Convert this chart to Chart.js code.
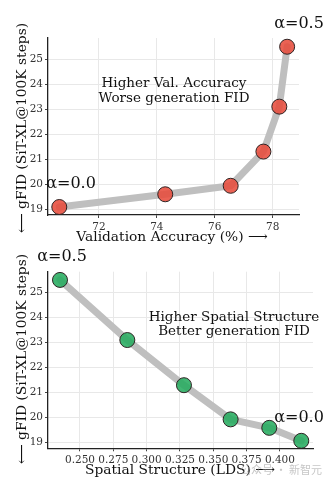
<!DOCTYPE html>
<html>
<head>
<meta charset="utf-8">
<script src="https://cdn.jsdelivr.net/npm/chart.js@4.4.0/dist/chart.umd.min.js"></script>
<style>
  html, body { margin: 0; padding: 0; background: #fff; }
  .wrap { position: relative; width: 333px; height: 485px; overflow: hidden; }
  .box { position: absolute; left: 0; width: 333px; }
  #top { top: 0; height: 245px; }
  #bot { top: 245px; height: 240px; }
</style>
</head>
<body>
<div class="wrap">
  <div class="box" id="top"><canvas id="c1" width="333" height="245"></canvas></div>
  <div class="box" id="bot"><canvas id="c2" width="333" height="240"></canvas></div>
</div>
<script>
// Validation accuracy vs gFID (alpha from 0.0 to 0.5)
const valAccuracy = [70.63, 74.29, 76.55, 77.68, 78.23, 78.50];
const gfidVal     = [19.08, 19.59, 19.93, 21.30, 23.10, 25.50];

// Spatial structure (LDS) vs gFID (alpha from 0.5 to 0.0)
const spatialLDS  = [0.235, 0.2855, 0.328, 0.363, 0.392, 0.416];
const gfidLDS     = [25.50, 23.09, 21.28, 19.91, 19.57, 19.05];

const yTicks = [19, 20, 21, 22, 23, 24, 25];
const accTicks = [72, 74, 76, 78];
const ldsTicks = [0.250, 0.275, 0.300, 0.325, 0.350, 0.375, 0.400];

const SERIF = '"DejaVu Serif", serif';

function textPlugin(items) {
  return {
    id: 'labels',
    afterDraw(chart) {
      const ctx = chart.ctx;
      items.forEach(t => {
        ctx.save();
        ctx.font = t.font;
        ctx.fillStyle = t.color || '#111';
        ctx.textAlign = t.align || 'center';
        ctx.textBaseline = 'middle';
        ctx.translate(t.x, t.y);
        if (t.rot) ctx.rotate(t.rot);
        ctx.fillText(t.text, 0, 0);
        ctx.restore();
      });
    }
  };
}

function makeChart(id, xs, ys, xTicks, xMin, xMax, yMin, yMax, pad, axisH, fill, items) {
  const data = xs.map((x, i) => ({ x: x, y: ys[i] }));
  return new Chart(document.getElementById(id), {
    type: 'line',
    data: {
      datasets: [{
        data: data,
        borderColor: '#bfbfbf',
        borderWidth: 7,
        borderJoinStyle: 'round',
        borderCapStyle: 'round',
        pointRadius: 7.5,
        pointHoverRadius: 7.5,
        pointBackgroundColor: fill,
        pointBorderColor: '#2e2424',
        pointBorderWidth: 1,
        tension: 0
      }]
    },
    options: {
      responsive: false,
      animation: false,
      events: [],
      layout: { padding: pad },
      plugins: { legend: { display: false }, tooltip: { enabled: false } },
      scales: {
        x: {
          type: 'linear',
          min: xMin, max: xMax,
          afterBuildTicks: s => { s.ticks = xTicks.map(v => ({ value: v })); },
          afterFit: s => { s.height = axisH; },
          ticks: {
            font: { family: SERIF, size: 10.5 }, color: '#333', padding: 3,
            maxRotation: 0,
            callback: v => (xTicks[0] < 1 ? v.toFixed(3) : String(v))
          },
          grid: { color: '#e8e8e8', lineWidth: 1, tickLength: 3, tickColor: '#444' },
          border: { color: '#222', width: 1.3 }
        },
        y: {
          type: 'linear',
          min: yMin, max: yMax,
          afterBuildTicks: s => { s.ticks = yTicks.map(v => ({ value: v })); },
          afterFit: s => { s.width = 48; },
          ticks: { font: { family: SERIF, size: 10.5 }, color: '#333', padding: 2 },
          grid: { color: '#e8e8e8', lineWidth: 1, tickLength: 3, tickColor: '#444' },
          border: { color: '#222', width: 1.3 }
        }
      }
    },
    plugins: [textPlugin(items)]
  });
}

const AX = '13.8px ' + SERIF;
const NOTE = '13.5px ' + SERIF;
const ALPHA = '16px ' + SERIF;

makeChart('c1', valAccuracy, gfidVal, accTicks, 70.24, 78.91, 18.76, 25.85,
  { top: 38, right: 34, left: 0, bottom: 0 }, 30, 'rgba(231,76,60,0.88)', [
    { text: '⟵ gFID (SiT-XL@100K steps)', x: 22, y: 128, rot: -Math.PI / 2, font: AX },
    { text: 'Validation Accuracy (%) ⟶', x: 172, y: 237, font: AX },
    { text: 'Higher Val. Accuracy', x: 174, y: 83, font: NOTE },
    { text: 'Worse generation FID', x: 174, y: 98, font: NOTE },
    { text: 'α=0.5', x: 299, y: 24, font: ALPHA },
    { text: 'α=0.0', x: 71, y: 184, font: ALPHA }
  ]);

makeChart('c2', spatialLDS, gfidLDS, ldsTicks, 0.226, 0.4248, 18.75, 25.83,
  { top: 26.7, right: 20, left: 0, bottom: 0 }, 36.7, 'rgba(39,172,96,0.88)', [
    { text: '⟵ gFID (SiT-XL@100K steps)', x: 22, y: 114, rot: -Math.PI / 2, font: AX },
    { text: 'Spatial Structure (LDS) ⟶', x: 180, y: 225, font: AX },
    { text: 'Higher Spatial Structure', x: 234, y: 72, font: NOTE },
    { text: 'Better generation FID', x: 234, y: 86, font: NOTE },
    { text: 'α=0.5', x: 62, y: 12, font: ALPHA },
    { text: 'α=0.0', x: 299, y: 173, font: ALPHA },
    { text: '公众号 · 新智元', x: 322, y: 225, align: 'right', color: 'rgba(160,160,160,0.6)', font: '11px "Noto Sans CJK SC", sans-serif' }
  ]);
</script>
</body>
</html>
